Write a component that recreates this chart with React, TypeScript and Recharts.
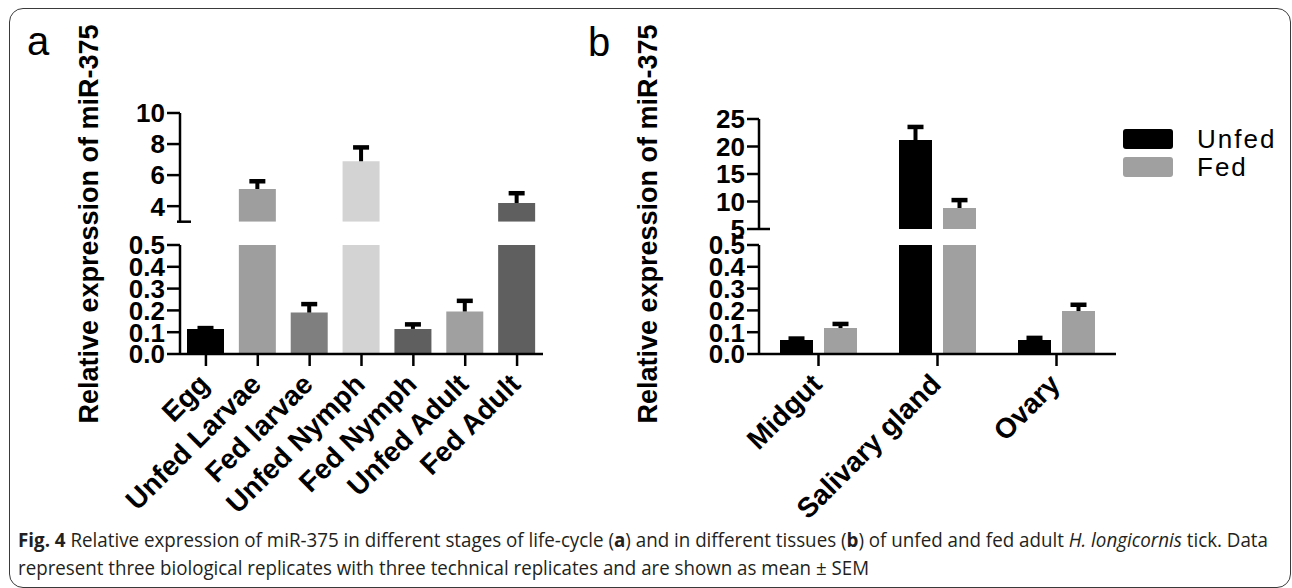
import { BarChart, Bar, XAxis, YAxis, Cell, Legend } from 'recharts'

const stages = ['Egg', 'Unfed Larvae', 'Fed larvae', 'Unfed Nymph', 'Fed Nymph', 'Unfed Adult', 'Fed Adult']
const stageMeans = [0.115, 5.1, 0.19, 6.9, 0.115, 0.195, 4.2]
const stageSem = [0.005, 0.52, 0.04, 0.9, 0.022, 0.05, 0.65]
const stageColors = ['#000000', '#9e9e9e', '#7f7f7f', '#d3d3d3', '#5f5f5f', '#a0a0a0', '#5f5f5f']

const tissues = ['Midgut', 'Salivary gland', 'Ovary']
const seriesNames = ['Unfed', 'Fed']
const unfedMeans = [0.064, 21.2, 0.064]
const unfedSem = [0.008, 2.4, 0.011]
const fedMeans = [0.119, 8.8, 0.197]
const fedSem = [0.02, 1.5, 0.03]

const lowTicks = [0, 0.1, 0.2, 0.3, 0.4, 0.5]
const stageHighTicks = [3, 4, 6, 8, 10]
const tissueHighTicks = [5, 10, 15, 20, 25]

const stageRows = stages.map((name, i) => ({
  name,
  mean: stageMeans[i],
  sem: stageSem[i],
}))

const tissueRows = tissues.map((name, i) => ({
  name,
  unfed: unfedMeans[i],
  unfedSem: unfedSem[i],
  fed: fedMeans[i],
  fedSem: fedSem[i],
}))

const FONT = '"Liberation Sans", Arial, sans-serif'
const AXIS = { stroke: '#000', strokeWidth: 2.5 }

// one-sided SEM whisker drawn on the stacked error segment
function SemBar(props: any) {
  const { x, y, width, height } = props
  if (x == null || y == null || !(Math.abs(height) > 0.05)) return null
  const cx = x + width / 2
  return (
    <g>
      <line x1={cx} x2={cx} y1={y + height} y2={y} stroke="#000" strokeWidth={4} />
      <rect x={cx - 8} y={y - 2} width={16} height={4.5} fill="#000" />
    </g>
  )
}

function yTick(axisX: number, tickLen: number, breakAt: number | null, breakLabel: boolean, digits: number) {
  return (props: any) => {
    const { y, payload } = props
    const v = payload.value
    const label = (
      <text
        x={axisX - tickLen - 2}
        y={y}
        dy="0.36em"
        textAnchor="end"
        fontFamily={FONT}
        fontWeight="bold"
        fontSize={26}
        fill="#000"
      >
        {v.toFixed(digits)}
      </text>
    )
    if (v === breakAt) {
      return (
        <g>
          <line x1={axisX - (breakLabel ? tickLen : 3)} x2={axisX + 11} y1={y} y2={y} stroke="#000" strokeWidth={2.5} />
          {breakLabel && label}
        </g>
      )
    }
    return (
      <g>
        <line x1={axisX - tickLen} x2={axisX} y1={y} y2={y} stroke="#000" strokeWidth={2.5} />
        {label}
      </g>
    )
  }
}

function slantTick(props: any) {
  const { x, y, payload } = props
  const ax = x + 5
  const ay = y + 18
  return (
    <text
      x={ax}
      y={ay}
      transform={`rotate(-45 ${ax} ${ay})`}
      textAnchor="end"
      fontFamily={FONT}
      fontWeight="bold"
      fontSize={28}
      fill="#000"
    >
      {payload.value}
    </text>
  )
}

function LegendBox({ payload }: any) {
  const items = (payload || [])
    .filter((item: any) => seriesNames.includes(item.value))
    .sort((a: any, b: any) => seriesNames.indexOf(a.value) - seriesNames.indexOf(b.value))
  return (
    <div>
      {items.map((item: any) => (
        <div key={item.value} style={{ display: 'flex', alignItems: 'center', height: 28 }}>
          <span
            style={{
              display: 'inline-block',
              width: 50,
              height: 20,
              background: item.color,
              borderRadius: 3,
              marginRight: 24,
            }}
          />
          <span style={{ fontFamily: FONT, fontSize: 26, letterSpacing: 2, color: '#000', lineHeight: '28px' }}>
            {item.value}
          </span>
        </div>
      ))}
    </div>
  )
}

export default function App() {
  return (
    <div style={{ position: 'absolute', left: 0, top: 0, width: 1292, height: 588, background: '#fff', overflow: 'hidden' }}>
      {/* frame */}
      <div
        style={{
          position: 'absolute',
          left: 9,
          top: 8,
          width: 1282,
          height: 580,
          border: '1.5px solid #3a3a3a',
          borderRadius: 14,
          boxSizing: 'border-box',
        }}
      />

      {/* panel a, upper segment */}
      <div style={{ position: 'absolute', left: 0, top: 70 }}>
        <BarChart width={560} height={160} data={stageRows} barSize={37} margin={{ top: 43, right: 17, bottom: 8.3, left: 0 }}>
          <XAxis dataKey="name" hide />
          <YAxis
            width={180}
            domain={[3, 10]}
            ticks={stageHighTicks}
            interval={0}
            allowDataOverflow
            axisLine={AXIS}
            tickLine={false}
            tick={yTick(180, 13, 3, false, 0)}
          />
          <Bar dataKey="mean" stackId="s" isAnimationActive={false}>
            {stageRows.map((r, i) => (
              <Cell key={r.name} fill={stageColors[i]} />
            ))}
          </Bar>
          <Bar dataKey="sem" stackId="s" shape={SemBar} isAnimationActive={false} />
        </BarChart>
      </div>

      {/* panel a, lower segment */}
      <div style={{ position: 'absolute', left: 0, top: 225 }}>
        <BarChart width={560} height={300} data={stageRows} barSize={37} margin={{ top: 20, right: 17, bottom: 0, left: 0 }}>
          <XAxis
            dataKey="name"
            height={171}
            interval={0}
            axisLine={AXIS}
            tickLine={{ stroke: '#000', strokeWidth: 2.5 }}
            tickSize={12}
            tick={slantTick}
          />
          <YAxis
            width={180}
            domain={[0, 0.5]}
            ticks={lowTicks}
            interval={0}
            allowDataOverflow
            axisLine={AXIS}
            tickLine={false}
            tick={yTick(180, 13, null, false, 1)}
          />
          <Bar dataKey="mean" stackId="s" isAnimationActive={false}>
            {stageRows.map((r, i) => (
              <Cell key={r.name} fill={stageColors[i]} />
            ))}
          </Bar>
          <Bar dataKey="sem" stackId="s" shape={SemBar} isAnimationActive={false} />
        </BarChart>
      </div>

      {/* panel b, upper segment */}
      <div style={{ position: 'absolute', left: 560, top: 70 }}>
        <BarChart width={732} height={170} data={tissueRows} barSize={33} barGap={11} margin={{ top: 49, right: 176, bottom: 11, left: 0 }}>
          <XAxis dataKey="name" hide />
          <YAxis
            width={199}
            domain={[5, 25]}
            ticks={tissueHighTicks}
            interval={0}
            allowDataOverflow
            axisLine={AXIS}
            tickLine={false}
            tick={yTick(199, 12, 5, true, 0)}
          />
          <Legend
            layout="vertical"
            align="center"
            verticalAlign="middle"
            content={LegendBox}
            wrapperStyle={{ position: 'absolute', left: 563, top: 55, width: 170 }}
          />
          <Bar dataKey="unfed" name="Unfed" stackId="u" fill="#000000" isAnimationActive={false} />
          <Bar dataKey="unfedSem" stackId="u" shape={SemBar} legendType="none" isAnimationActive={false} />
          <Bar dataKey="fed" name="Fed" stackId="f" fill="#a0a0a0" isAnimationActive={false} />
          <Bar dataKey="fedSem" stackId="f" shape={SemBar} legendType="none" isAnimationActive={false} />
        </BarChart>
      </div>

      {/* panel b, lower segment */}
      <div style={{ position: 'absolute', left: 560, top: 225 }}>
        <BarChart width={732} height={300} data={tissueRows} barSize={33} barGap={11} margin={{ top: 20, right: 176, bottom: 0, left: 0 }}>
          <XAxis
            dataKey="name"
            height={171}
            interval={0}
            axisLine={AXIS}
            tickLine={{ stroke: '#000', strokeWidth: 2.5 }}
            tickSize={12}
            tick={slantTick}
          />
          <YAxis
            width={199}
            domain={[0, 0.5]}
            ticks={lowTicks}
            interval={0}
            allowDataOverflow
            axisLine={AXIS}
            tickLine={false}
            tick={yTick(199, 12, null, false, 1)}
          />
          <Bar dataKey="unfed" name="Unfed" stackId="u" fill="#000000" isAnimationActive={false} />
          <Bar dataKey="unfedSem" stackId="u" shape={SemBar} legendType="none" isAnimationActive={false} />
          <Bar dataKey="fed" name="Fed" stackId="f" fill="#a0a0a0" isAnimationActive={false} />
          <Bar dataKey="fedSem" stackId="f" shape={SemBar} legendType="none" isAnimationActive={false} />
        </BarChart>
      </div>

      {/* titles, panel letters, caption */}
      <svg width={1292} height={588} style={{ position: 'absolute', left: 0, top: 0, pointerEvents: 'none' }}>
        <text x={27} y={55} fontFamily={FONT} fontSize={40} fill="#000">a</text>
        <text x={588} y={56} fontFamily={FONT} fontSize={40} fill="#000">b</text>
        <text
          x={89}
          y={224}
          transform="rotate(-90 89 224)"
          textAnchor="middle"
          dominantBaseline="central"
          fontFamily={FONT}
          fontWeight="bold"
          fontSize={27}
          fill="#000"
        >
          Relative expression of miR-375
        </text>
        <text
          x={648}
          y={224}
          transform="rotate(-90 648 224)"
          textAnchor="middle"
          dominantBaseline="central"
          fontFamily={FONT}
          fontWeight="bold"
          fontSize={27}
          fill="#000"
        >
          Relative expression of miR-375
        </text>
        <text x={18} y={547} fontFamily='"Open Sans", sans-serif' fontSize={19.5} fill="#231f20" textLength={1250} lengthAdjust="spacingAndGlyphs">
          <tspan fontWeight="bold">Fig. 4</tspan> Relative expression of miR-375 in different stages of life-cycle (<tspan fontWeight="bold">a</tspan>) and in different tissues (<tspan fontWeight="bold">b</tspan>) of unfed and fed adult <tspan fontStyle="italic">H. longicornis</tspan> tick. Data
        </text>
        <text x={18} y={575} fontFamily='"Open Sans", sans-serif' fontSize={19.5} fill="#231f20" textLength={851} lengthAdjust="spacingAndGlyphs">
          represent three biological replicates with three technical replicates and are shown as mean ± SEM
        </text>
      </svg>
    </div>
  )
}
